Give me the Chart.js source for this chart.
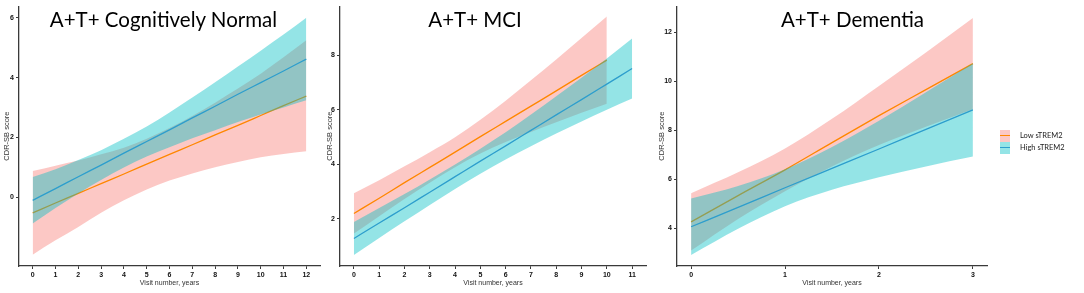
<!DOCTYPE html>
<html>
<head>
<meta charset="utf-8">
<script src="https://cdn.jsdelivr.net/npm/chart.js@4.4.0/dist/chart.umd.min.js"></script>
<style>
  body { margin: 0; background: #fff; width: 1084px; height: 293px; position: relative; overflow: hidden; }
  canvas { position: absolute; top: 0; }
  .ttl { position: absolute; top: 8px; font-family: Lato, "Open Sans", sans-serif; font-size: 20.5px; line-height: 22px; color: #000; white-space: nowrap; transform: translateX(-50%); }
  .lg { position: absolute; left: 1000px; font-family: Lato, "Open Sans", sans-serif; font-size: 7.5px; color: #222; }
  .key { position: absolute; left: 0; width: 10px; height: 12px; }
  .key div { position: absolute; left: 0; right: 0; top: 5.5px; height: 1.3px; }
  .lbl { position: absolute; left: 20px; top: 0; line-height: 12px; white-space: nowrap; }
</style>
</head>
<body>
<canvas id="c1" width="330" height="293" style="left:0px"></canvas>
<canvas id="c2" width="335" height="293" style="left:322px"></canvas>
<canvas id="c3" width="338" height="293" style="left:657px"></canvas>
<div id="titles"></div>
<div id="legend"></div>
<script>
// panel titles + legend
const panelTitles = ['A+T+ Cognitively Normal', 'A+T+ MCI', 'A+T+ Dementia'];
const legendLabels = ['Low sTREM2', 'High sTREM2'];

// A+T+ Cognitively Normal
const years1 = [0, 1, 2, 3, 4, 5, 6, 7, 8, 9, 10, 11, 12];
const low1 = [-0.53, -0.20, 0.12, 0.45, 0.77, 1.10, 1.43, 1.75, 2.08, 2.40, 2.73, 3.06, 3.38];
const low1Upper = [0.87, 1.05, 1.22, 1.43, 1.65, 1.95, 2.31, 2.71, 3.16, 3.63, 4.13, 4.68, 5.25];
const low1Lower = [-1.93, -1.45, -1.00, -0.53, -0.11, 0.25, 0.55, 0.79, 1.00, 1.17, 1.33, 1.44, 1.53];
const high1 = [-0.11, 0.28, 0.68, 1.07, 1.47, 1.86, 2.25, 2.65, 3.04, 3.44, 3.83, 4.22, 4.62];
const high1Upper = [0.67, 0.93, 1.24, 1.57, 1.95, 2.36, 2.83, 3.33, 3.84, 4.37, 4.90, 5.44, 6.00];
const high1Lower = [-0.89, -0.37, 0.12, 0.57, 0.99, 1.36, 1.67, 1.97, 2.24, 2.51, 2.76, 3.00, 3.24];
const xTicks1 = [0, 1, 2, 3, 4, 5, 6, 7, 8, 9, 10, 11, 12];
const yTicks1 = [0, 2, 4, 6];

// A+T+ MCI
const years2Low = [0, 1, 2, 3, 4, 5, 6, 7, 8, 9, 10];
const years2High = [0, 1, 2, 3, 4, 5, 6, 7, 8, 9, 10, 11];
const low2 = [2.20, 2.76, 3.33, 3.89, 4.45, 5.02, 5.58, 6.14, 6.70, 7.27, 7.83];
const low2Upper = [2.94, 3.42, 3.93, 4.45, 5.00, 5.64, 6.34, 7.09, 7.85, 8.64, 9.43];
const low2Lower = [1.46, 2.10, 2.73, 3.33, 3.90, 4.40, 4.82, 5.19, 5.55, 5.90, 6.23];
const high2 = [1.28, 1.85, 2.41, 2.98, 3.55, 4.12, 4.68, 5.25, 5.82, 6.38, 6.95, 7.52];
const high2Upper = [1.89, 2.40, 2.91, 3.45, 4.00, 4.58, 5.18, 5.83, 6.50, 7.18, 7.89, 8.62];
const high2Lower = [0.67, 1.30, 1.91, 2.51, 3.10, 3.66, 4.18, 4.67, 5.14, 5.58, 6.01, 6.42];
const xTicks2 = [0, 1, 2, 3, 4, 5, 6, 7, 8, 9, 10, 11];
const yTicks2 = [2, 4, 6, 8];

// A+T+ Dementia
const years3 = [0, 0.5, 1, 1.5, 2, 2.5, 3];
const low3 = [4.27, 5.34, 6.39, 7.50, 8.60, 9.66, 10.72];
const low3Upper = [5.44, 6.29, 7.26, 8.47, 9.81, 11.17, 12.58];
const low3Lower = [3.10, 4.39, 5.52, 6.53, 7.40, 8.15, 8.86];
const high3 = [4.07, 4.86, 5.66, 6.45, 7.24, 8.04, 8.83];
const high3Upper = [5.22, 5.73, 6.41, 7.32, 8.39, 9.55, 10.73];
const high3Lower = [2.92, 3.99, 4.91, 5.58, 6.09, 6.53, 6.93];
const xTicks3 = [0, 1, 2, 3];
const yTicks3 = [4, 6, 8, 10, 12];

const pinkFill = 'rgba(248, 118, 109, 0.4)';
const tealFill = 'rgba(0, 191, 196, 0.42)';
const orangeLine = 'rgb(255, 135, 0)';
const blueLine = 'rgb(45, 158, 205)';
const axisColor = '#3a3a3a';

function pts(xs, ys) {
  return xs.map((x, i) => ({x: x, y: ys[i]}));
}

function bandSets(xs, mean, up, lo, fill, line, ord) {
  return [{
    data: pts(xs, up), borderWidth: 0, pointRadius: 0, fill: '+1',
    backgroundColor: fill, cubicInterpolationMode: 'monotone', order: ord + 1
  }, {
    data: pts(xs, lo), borderWidth: 0, pointRadius: 0, fill: false,
    cubicInterpolationMode: 'monotone', order: ord + 1
  }, {
    data: pts(xs, mean), borderWidth: 1.3, pointRadius: 0, fill: false,
    borderColor: line, cubicInterpolationMode: 'monotone', order: ord
  }];
}

function makePanel(id, p) {
  // low band drawn first (higher order), then high band on top
  const datasets = bandSets(p.xl, p.low, p.lowUp, p.lowLo, pinkFill, orangeLine, 2)
    .concat(bandSets(p.xh, p.high, p.highUp, p.highLo, tealFill, blueLine, 0));
  return new Chart(document.getElementById(id), {
    type: 'line',
    data: {datasets: datasets},
    options: {
      responsive: false,
      devicePixelRatio: 1,
      animation: false,
      layout: {padding: {left: 0, right: p.padRight, top: 5, bottom: 0}},
      plugins: {legend: {display: false}, tooltip: {enabled: false}},
      scales: {
        x: {
          type: 'linear', min: p.xmin, max: p.xmax,
          afterBuildTicks: s => { s.ticks = p.xTicks.map(v => ({value: v})); },
          afterFit: s => { s.height = 27; },
          ticks: {font: {family: 'Liberation Sans', size: 7, weight: 'bold'}, color: '#111', padding: 2, maxRotation: 0, autoSkip: false},
          grid: {display: true, drawOnChartArea: false, drawTicks: true, tickLength: 3, color: axisColor, lineWidth: 1},
          border: {display: true, color: axisColor, width: 1.3},
          title: {display: true, text: 'Visit number, years', font: {family: 'Liberation Sans', size: 7}, color: '#333', padding: {top: 0, bottom: 6}}
        },
        y: {
          type: 'linear', min: p.ymin, max: p.ymax,
          afterBuildTicks: s => { s.ticks = p.yTicks.map(v => ({value: v})); },
          afterFit: s => { s.width = p.yWidth; },
          ticks: {font: {family: 'Liberation Sans', size: 7, weight: 'bold'}, color: '#111', padding: 2},
          grid: {display: true, drawOnChartArea: false, drawTicks: true, tickLength: 3, color: axisColor, lineWidth: 1},
          border: {display: true, color: axisColor, width: 1.3},
          title: {display: true, text: 'CDR-SB score', font: {family: 'Liberation Sans', size: 7.5}, color: '#333', padding: {top: p.titlePad, bottom: 0}}
        }
      }
    }
  });
}

makePanel('c1', {
  xl: years1, low: low1, lowUp: low1Upper, lowLo: low1Lower,
  xh: years1, high: high1, highUp: high1Upper, highLo: high1Lower,
  xTicks: xTicks1, yTicks: yTicks1,
  xmin: -0.6, xmax: 12.6, ymin: -2.31, ymax: 6.39,
  yWidth: 19, padRight: 10, titlePad: 2
});

makePanel('c2', {
  xl: years2Low, low: low2, lowUp: low2Upper, lowLo: low2Lower,
  xh: years2High, high: high2, highUp: high2Upper, highLo: high2Lower,
  xTicks: xTicks2, yTicks: yTicks2,
  xmin: -0.55, xmax: 11.55, ymin: 0.27, ymax: 9.81,
  yWidth: 18, padRight: 11, titlePad: 3.8
});

makePanel('c3', {
  xl: years3, low: low3, lowUp: low3Upper, lowLo: low3Lower,
  xh: years3, high: high3, highUp: high3Upper, highLo: high3Lower,
  xTicks: xTicks3, yTicks: yTicks3,
  xmin: -0.15, xmax: 3.15, ymin: 2.47, ymax: 13.06,
  yWidth: 20, padRight: 8, titlePad: 0
});

// titles sit inside the plot areas
const titleX = [163.5, 475, 852.5];
const tdiv = document.getElementById('titles');
panelTitles.forEach((t, i) => {
  const d = document.createElement('div');
  d.className = 'ttl';
  d.style.left = titleX[i] + 'px';
  d.textContent = t;
  tdiv.appendChild(d);
});

// legend: ribbon key with the line through it
const keyFill = [pinkFill, tealFill];
const keyLine = [orangeLine, blueLine];
const ldiv = document.getElementById('legend');
legendLabels.forEach((t, i) => {
  const row = document.createElement('div');
  row.className = 'lg';
  row.style.top = (129.5 + i * 12) + 'px';
  row.innerHTML = '<div class="key" style="background:' + keyFill[i] + '"><div style="background:' + keyLine[i] + '"></div></div>' +
    '<div class="lbl">' + t + '</div>';
  ldiv.appendChild(row);
});
</script>
</body>
</html>
